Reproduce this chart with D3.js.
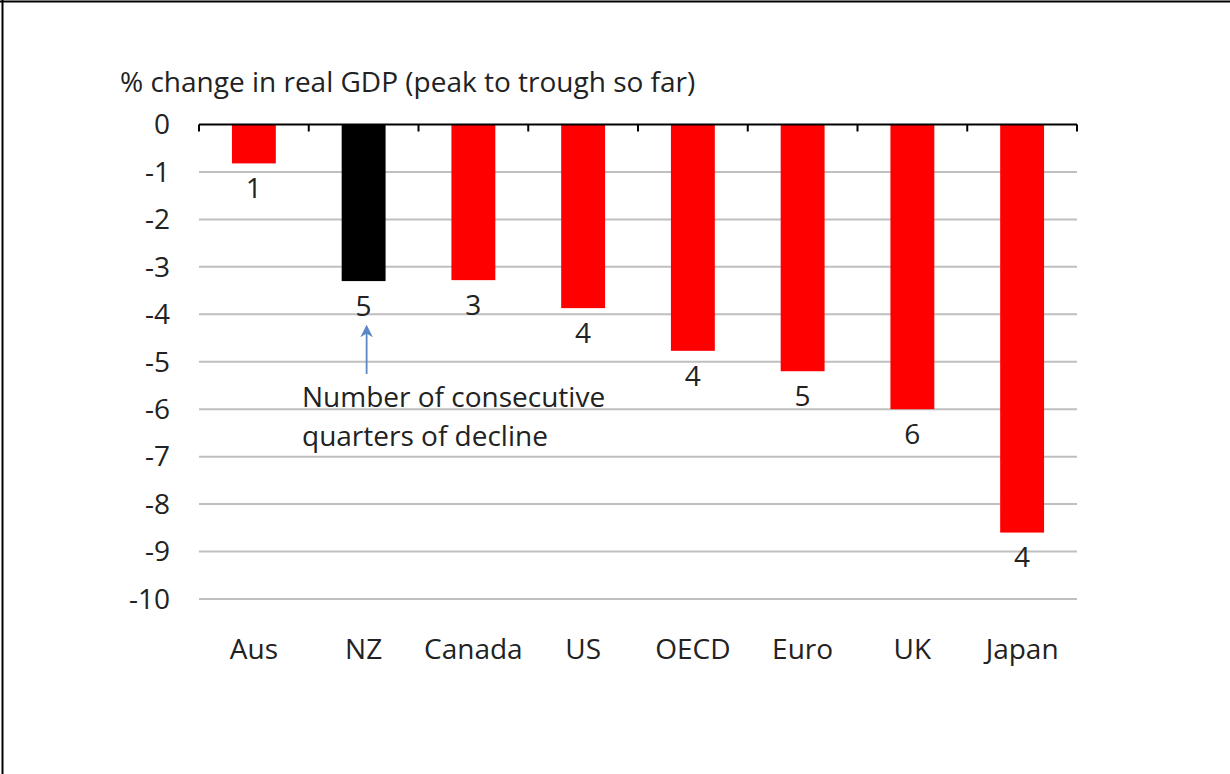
<!DOCTYPE html>
<html>
<head>
<meta charset="utf-8">
<script src="https://cdn.jsdelivr.net/npm/d3@7"></script>
<style>
  html, body { margin: 0; padding: 0; background: #fff; }
  svg { display: block; }
  text { font-family: "Open Sans", "Noto Sans", sans-serif; fill: #222; }
</style>
</head>
<body>
<svg id="chart" width="1230" height="774"></svg>
<script>
const categories = ["Aus", "NZ", "Canada", "US", "OECD", "Euro", "UK", "Japan"];
const gdpChange = [-0.82, -3.3, -3.28, -3.87, -4.77, -5.2, -6.0, -8.6];
const quartersDecline = [1, 5, 3, 4, 4, 5, 6, 4];
const barColors = ["#FF0000", "#000000", "#FF0000", "#FF0000", "#FF0000", "#FF0000", "#FF0000", "#FF0000"];
const yTicks = [0, -1, -2, -3, -4, -5, -6, -7, -8, -9, -10];
const titleText = "% change in real GDP (peak to trough so far)";
const noteLines = ["Number of consecutive", "quarters of decline"];

const svg = d3.select("#chart");
const W = 1230, H = 774;
const plot = { left: 199, right: 1077, top: 124.5, bottom: 599 };
const fs = 28;

// frame (top and left edges)
svg.append("line").attr("x1", 0).attr("x2", W).attr("y1", 1.5).attr("y2", 1.5)
  .attr("stroke", "#000").attr("stroke-width", 2);
svg.append("line").attr("x1", 2.5).attr("x2", 2.5).attr("y1", 0).attr("y2", H)
  .attr("stroke", "#000").attr("stroke-width", 2);

const x = d3.scaleBand().domain(categories).range([plot.left, plot.right])
  .paddingInner(0.6).paddingOuter(0.3);
const y = d3.scaleLinear().domain([-10, 0]).range([plot.bottom, plot.top]);

// gridlines
svg.append("g").selectAll("line").data(yTicks.filter(t => t !== 0)).join("line")
  .attr("x1", plot.left).attr("x2", plot.right)
  .attr("y1", d => y(d)).attr("y2", d => y(d))
  .attr("stroke", "#bfbfbf").attr("stroke-width", 2);

// bars
const data = categories.map((c, i) => ({ c, v: gdpChange[i], q: quartersDecline[i], col: barColors[i] }));
svg.append("g").selectAll("rect").data(data).join("rect")
  .attr("x", d => x(d.c)).attr("width", x.bandwidth())
  .attr("y", y(0)).attr("height", d => y(d.v) - y(0))
  .attr("fill", d => d.col);

// top axis line (at zero) with downward tick marks at category boundaries
const boundaries = d3.range(categories.length + 1).map(i => plot.left + i * x.step());
svg.append("line").attr("x1", plot.left).attr("x2", plot.right)
  .attr("y1", y(0)).attr("y2", y(0)).attr("stroke", "#000").attr("stroke-width", 2);
svg.append("g").selectAll("line").data(boundaries).join("line")
  .attr("x1", d => d).attr("x2", d => d)
  .attr("y1", y(0)).attr("y2", y(0) + 7)
  .attr("stroke", "#000").attr("stroke-width", 2);

// y tick labels
svg.append("g").selectAll("text").data(yTicks).join("text")
  .attr("x", 170).attr("y", d => y(d)).attr("dy", "0.35em")
  .attr("text-anchor", "end").attr("font-size", fs).text(d => d);

// category labels
svg.append("g").selectAll("text").data(categories).join("text")
  .attr("x", d => x(d) + x.bandwidth() / 2).attr("y", 649).attr("dy", "0.35em")
  .attr("text-anchor", "middle").attr("font-size", fs).text(d => d);

// data labels (quarters of decline)
svg.append("g").selectAll("text").data(data).join("text")
  .attr("x", d => x(d.c) + x.bandwidth() / 2).attr("y", d => y(d.v) + 25).attr("dy", "0.35em")
  .attr("text-anchor", "middle").attr("font-size", fs).text(d => d.q);

// title
svg.append("text").attr("x", 120).attr("y", 82).attr("dy", "0.35em")
  .attr("font-size", fs).text(titleText);

// annotation
const nz = x("NZ") + x.bandwidth() / 2 + 3;
svg.append("defs").append("marker").attr("id", "ah")
  .attr("viewBox", "0 0 10 10").attr("refX", 5).attr("refY", 5)
  .attr("markerWidth", 7).attr("markerHeight", 7).attr("orient", "auto")
  .append("path").attr("d", "M0,0 L10,5 L0,10 L3,5 Z").attr("fill", "#5b87c5");
svg.append("line").attr("x1", nz).attr("x2", nz).attr("y1", 374).attr("y2", 331)
  .attr("stroke", "#5b87c5").attr("stroke-width", 1.8).attr("marker-end", "url(#ah)");
svg.append("g").selectAll("text").data(noteLines).join("text")
  .attr("x", 302).attr("y", (d, i) => 397 + i * 39).attr("dy", "0.35em")
  .attr("font-size", fs).text(d => d);
</script>
</body>
</html>
